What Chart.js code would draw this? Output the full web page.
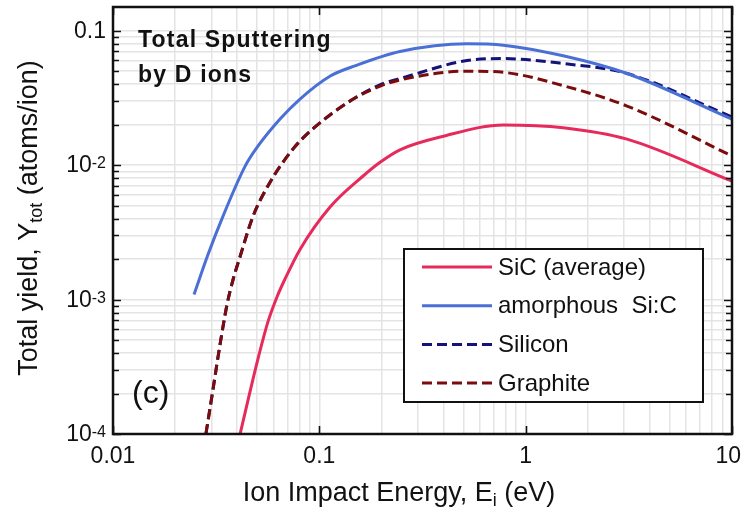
<!DOCTYPE html>
<html>
<head>
<meta charset="utf-8">
<script src="https://cdn.jsdelivr.net/npm/chart.js@4.4.1/dist/chart.umd.min.js"></script>
<style>
  html, body { margin: 0; padding: 0; background: #fff; }
  #wrap { width: 743px; height: 509px; position: relative; }
</style>
</head>
<body>
<div id="wrap"><canvas id="yieldChart"></canvas></div>
<script>
// total sputtering yield (atoms/ion) vs. D ion impact energy (eV)
const sicE = [0.0413, 0.0499, 0.0564, 0.0624, 0.068, 0.0806, 0.113, 0.163, 0.197, 0.246, 0.40, 0.78, 1.52, 3.1, 10];
const sicY = [1.0e-4, 3.4e-4, 6.85e-4, 1.05e-3, 1.41e-3, 2.36e-3, 4.9e-3, 8.3e-3, 0.0105, 0.013, 0.0164, 0.0199, 0.019, 0.0156, 0.0076];

const amorphE = [0.0247, 0.0289, 0.0341, 0.0437, 0.0493, 0.0645, 0.0806, 0.113, 0.15, 0.246, 0.52, 0.78, 1.52, 3.1, 10];
const amorphY = [1.09e-3, 2.17e-3, 4.16e-3, 9.83e-3, 0.0132, 0.022, 0.031, 0.046, 0.055, 0.070, 0.080, 0.078, 0.065, 0.048, 0.022];

const siE = [0.0282, 0.0305, 0.0330, 0.0357, 0.0382, 0.0413, 0.0477, 0.0577, 0.0746, 0.093, 0.146, 0.2, 0.246, 0.52, 0.78, 1.52, 3.1, 10];
const siY = [1.0e-4, 2.13e-4, 4.61e-4, 9.18e-4, 1.41e-3, 2.09e-3, 4.16e-3, 7.46e-3, 0.0132, 0.0186, 0.031, 0.040, 0.044, 0.060, 0.062, 0.057, 0.048, 0.0228];

const grE = [0.0282, 0.0305, 0.0330, 0.0357, 0.0382, 0.0413, 0.0477, 0.0577, 0.0746, 0.093, 0.146, 0.2, 0.246, 0.52, 0.78, 1.52, 3.1, 10];
const grY = [1.0e-4, 2.13e-4, 4.61e-4, 9.18e-4, 1.41e-3, 2.09e-3, 4.16e-3, 7.46e-3, 0.0132, 0.0186, 0.031, 0.039, 0.043, 0.050, 0.049, 0.039, 0.0275, 0.0117];

const seriesLabels = ['SiC (average)', 'amorphous  Si:C', 'Silicon', 'Graphite'];
const seriesColors = ['#e62a5c', '#4a70d6', '#141478', '#7c0c0c'];

const xTickValues = [0.01, 0.1, 1, 10];
const xTickLabels = ['0.01', '0.1', '1', '10'];
const yTickValues = [1e-4, 1e-3, 1e-2, 0.1];
const yTickBase = ['10', '10', '10', '0.1'];
const yTickExp = ['-4', '-3', '-2', ''];

const FONT = "'Liberation Sans', Arial, sans-serif";
Chart.defaults.font.family = FONT;

function pts(xs, ys) {
  return xs.map((x, i) => ({ x: x, y: ys[i] }));
}

// 1..9 x 10^n positions for grid lines and minor ticks
function logTicks(min, max) {
  const out = [];
  for (let e = Math.floor(Math.log10(min)); e <= Math.ceil(Math.log10(max)); e++) {
    for (let m = 1; m < 10; m++) {
      const v = parseFloat((m * Math.pow(10, e)).toPrecision(6));
      if (v >= min * 0.999 && v <= max * 1.001) out.push(v);
    }
  }
  return out;
}

function isMajor(v) {
  return Math.abs(Math.log10(v) - Math.round(Math.log10(v))) < 1e-6;
}

// text with a raised or lowered small part: [text, size, dy]
function drawRuns(ctx, runs, x, y, align) {
  let total = 0;
  runs.forEach(r => { ctx.font = r[1] + 'px ' + FONT; total += ctx.measureText(r[0]).width; });
  let cx = align === 'center' ? x - total / 2 : (align === 'right' ? x - total : x);
  ctx.textAlign = 'left';
  ctx.textBaseline = 'alphabetic';
  runs.forEach(r => {
    ctx.font = r[1] + 'px ' + FONT;
    ctx.fillText(r[0], cx, y + r[2]);
    cx += ctx.measureText(r[0]).width;
  });
}

const decorations = {
  id: 'decorations',
  afterDraw(chart) {
    const ctx = chart.ctx;
    const area = chart.chartArea;
    const xs = chart.scales.x, ys = chart.scales.y;
    ctx.save();
    ctx.fillStyle = '#111';
    ctx.strokeStyle = '#111';

    // inward tick marks
    ctx.lineWidth = 1.6;
    ctx.beginPath();
    logTicks(ys.min, ys.max).forEach(v => {
      const py = Math.round(ys.getPixelForValue(v)) + 0.5;
      const len = isMajor(v) ? 8 : 6;
      ctx.moveTo(area.left, py); ctx.lineTo(area.left + len, py);
      ctx.moveTo(area.right, py); ctx.lineTo(area.right - len, py);
    });
    xTickValues.forEach(v => {
      const px = Math.round(xs.getPixelForValue(v)) + 0.5;
      ctx.moveTo(px, area.bottom); ctx.lineTo(px, area.bottom - 8);
      ctx.moveTo(px, area.top); ctx.lineTo(px, area.top + 8);
    });
    ctx.stroke();

    // frame
    ctx.lineWidth = 2.5;
    ctx.strokeRect(area.left, area.top, area.right - area.left, area.bottom - area.top);

    // x tick labels, the last one kept inside the canvas
    ctx.font = '23px ' + FONT;
    xTickValues.forEach((v, i) => {
      const w = ctx.measureText(xTickLabels[i]).width;
      let px = xs.getPixelForValue(v);
      px = Math.min(px, chart.width - 2 - w / 2);
      drawRuns(ctx, [[xTickLabels[i], 23, 0]], px, area.bottom + 29, 'center');
    });

    // y tick labels
    yTickValues.forEach((v, i) => {
      const py = ys.getPixelForValue(v);
      const runs = [[yTickBase[i], 23, 0]];
      if (yTickExp[i]) runs.push([yTickExp[i], 16, -4]);
      drawRuns(ctx, runs, area.left - 7, py + 7, 'right');
    });

    // axis titles
    drawRuns(ctx, [['Ion Impact Energy, E', 27, 0], ['i', 18, 5], [' (eV)', 27, 0]], 399, 501, 'center');
    ctx.save();
    ctx.translate(37, 218);
    ctx.rotate(-Math.PI / 2);
    drawRuns(ctx, [['Total yield, Y', 27, 0], ['tot', 18, 5], [' (atoms/ion)', 27, 0]], 0, 0, 'center');
    ctx.restore();

    // panel annotations
    ctx.font = 'bold 23px ' + FONT;
    ctx.textAlign = 'left';
    ctx.textBaseline = 'alphabetic';
    ctx.letterSpacing = '1.2px';
    ctx.fillText('Total Sputtering', area.left + 25, 47);
    ctx.fillText('by D ions', area.left + 25, 82);
    ctx.letterSpacing = '0px';
    ctx.font = '32px ' + FONT;
    ctx.fillText('(c)', area.left + 19, 403);

    // legend box
    const bx = 404, by = 249, bw = 299, bh = 153;
    ctx.fillStyle = '#fff';
    ctx.fillRect(bx, by, bw, bh);
    ctx.lineWidth = 2;
    ctx.strokeStyle = '#111';
    ctx.strokeRect(bx, by, bw, bh);
    chart.data.datasets.forEach((ds, i) => {
      const ry = by + 18 + i * 38.7;
      ctx.beginPath();
      ctx.setLineDash(ds.borderDash || []);
      ctx.strokeStyle = ds.borderColor;
      ctx.lineWidth = 3;
      ctx.moveTo(bx + 18, ry); ctx.lineTo(bx + 88, ry);
      ctx.stroke();
      ctx.setLineDash([]);
      ctx.fillStyle = '#111';
      ctx.font = '24px ' + FONT;
      ctx.textBaseline = 'middle';
      ctx.fillText(ds.label, bx + 94, ry + 1);
    });
    ctx.restore();
  }
};

const lineStyle = { borderWidth: 3, pointRadius: 0, cubicInterpolationMode: 'monotone', fill: false };

new Chart(document.getElementById('yieldChart'), {
  type: 'line',
  data: {
    datasets: [
      Object.assign({ label: seriesLabels[0], data: pts(sicE, sicY), borderColor: seriesColors[0], order: 1 }, lineStyle),
      Object.assign({ label: seriesLabels[1], data: pts(amorphE, amorphY), borderColor: seriesColors[1], order: 1 }, lineStyle),
      Object.assign({ label: seriesLabels[2], data: pts(siE, siY), borderColor: seriesColors[2], borderDash: [10, 5], order: 1 }, lineStyle),
      Object.assign({ label: seriesLabels[3], data: pts(grE, grY), borderColor: seriesColors[3], borderDash: [10, 5], order: 0 }, lineStyle),
    ]
  },
  options: {
    responsive: true,
    maintainAspectRatio: false,
    animation: false,
    layout: { padding: { top: 7, right: 11, left: 0, bottom: 0 } },
    plugins: { legend: { display: false }, tooltip: { enabled: false } },
    scales: {
      x: {
        type: 'logarithmic',
        min: 0.01,
        max: 10,
        afterBuildTicks: (scale) => { scale.ticks = logTicks(scale.min, scale.max).map(v => ({ value: v })); },
        afterFit: (scale) => { scale.height = 75; scale.paddingLeft = 0; scale.paddingRight = 0; },
        grid: { color: '#e4e4e4', lineWidth: 1.5, drawTicks: false },
        border: { display: false },
        ticks: { display: false }
      },
      y: {
        type: 'logarithmic',
        min: 1e-4,
        max: 0.15,
        afterBuildTicks: (scale) => { scale.ticks = logTicks(scale.min, scale.max).map(v => ({ value: v })); },
        afterFit: (scale) => { scale.width = 113; },
        grid: { color: '#e4e4e4', lineWidth: 1.5, drawTicks: false },
        border: { display: false },
        ticks: { display: false }
      }
    }
  },
  plugins: [decorations]
});
</script>
</body>
</html>
